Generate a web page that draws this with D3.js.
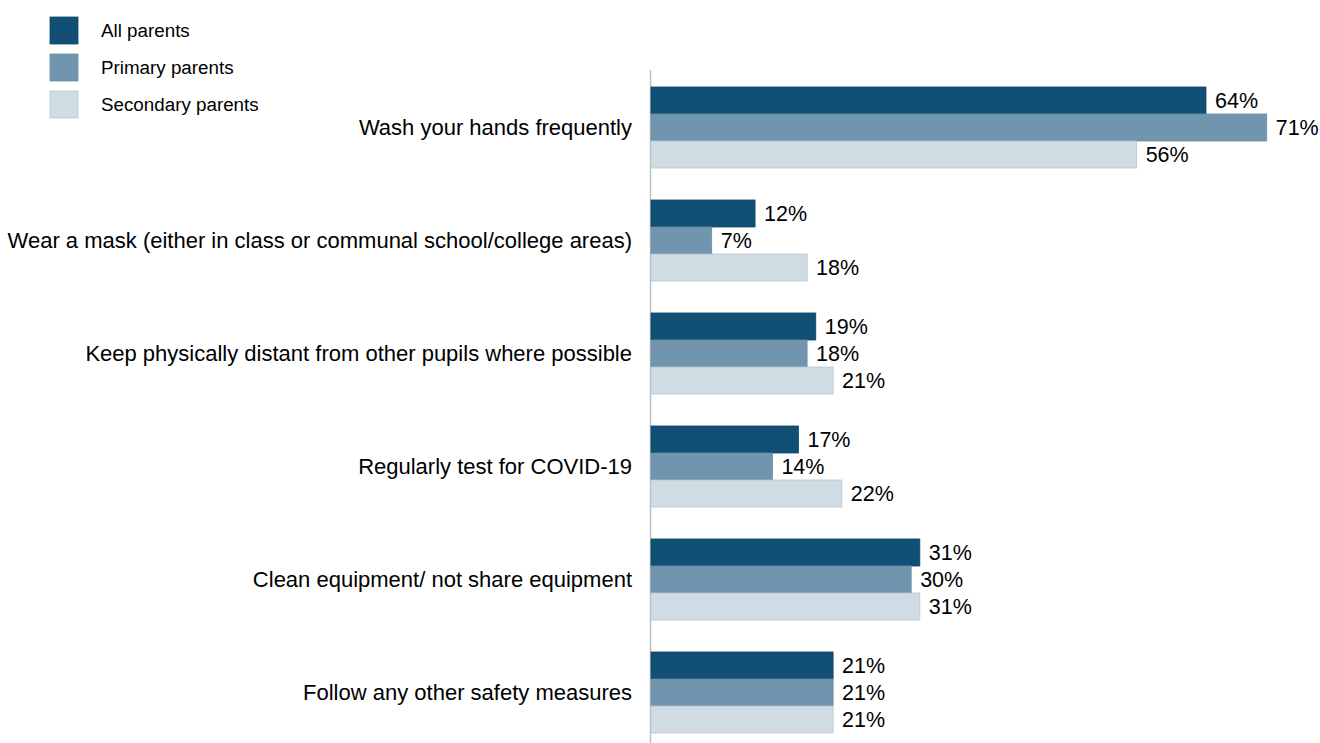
<!DOCTYPE html>
<html>
<head>
<meta charset="utf-8">
<script src="https://cdn.jsdelivr.net/npm/d3@7"></script>
<style>
  html, body { margin: 0; padding: 0; background: #fff; }
  svg { display: block; font-family: "Liberation Sans", Arial, sans-serif; }
</style>
</head>
<body>
<svg id="chart" width="1320" height="743"></svg>
<script>
const categories = [
  "Wash your hands frequently",
  "Wear a mask (either in class or communal school/college areas)",
  "Keep physically distant from other pupils where possible",
  "Regularly test for COVID-19",
  "Clean equipment/ not share equipment",
  "Follow any other safety measures"
];
const seriesNames = ["All parents", "Primary parents", "Secondary parents"];
const allParents = [64, 12, 19, 17, 31, 21];
const primaryParents = [71, 7, 18, 14, 30, 21];
const secondaryParents = [56, 18, 21, 22, 31, 21];
const seriesValues = [allParents, primaryParents, secondaryParents];
const colors = ["#114f74", "#7195ae", "#d0dce4"];
const strokes = ["#0e4768", "#6a8ea7", "#b9c6cf"];

const svg = d3.select("#chart");
const x0 = 651;
const x = d3.scaleLinear().domain([0, 64]).range([x0, 1206]);
const y = d3.scaleBand().domain(categories).range([71, 749]).paddingInner(0.283).paddingOuter(0.1415);
const ys = d3.scaleBand().domain(seriesNames).range([0, y.bandwidth()]);

// axis line
svg.append("line").attr("x1", 650.5).attr("x2", 650.5).attr("y1", 70).attr("y2", 743)
  .attr("stroke", "#bfbfbf").attr("stroke-width", 1.5);

const g = svg.append("g").selectAll("g").data(categories).join("g")
  .attr("transform", d => `translate(0,${y(d)})`);

seriesNames.forEach((s, si) => {
  g.append("rect")
    .attr("x", x0)
    .attr("y", ys(s))
    .attr("width", (d, i) => x(seriesValues[si][i]) - x0)
    .attr("height", ys.bandwidth())
    .attr("fill", colors[si])
    .attr("stroke", strokes[si]).attr("stroke-width", 0.8);
  g.append("text")
    .attr("x", (d, i) => x(seriesValues[si][i]) + 9)
    .attr("y", ys(s) + ys.bandwidth() / 2)
    .attr("dy", "0.35em")
    .attr("font-size", 21.5)
    .attr("fill", "#000")
    .text((d, i) => seriesValues[si][i] + "%");
});

// category labels
svg.append("g").selectAll("text").data(categories).join("text")
  .attr("x", 632)
  .attr("y", d => y(d) + y.bandwidth() / 2)
  .attr("dy", "0.33em")
  .attr("text-anchor", "end")
  .attr("font-size", 22)
  .attr("fill", "#000")
  .text(d => d);

// legend
const leg = svg.append("g").selectAll("g").data(seriesNames).join("g")
  .attr("transform", (d, i) => `translate(50,${17 + i * 37})`);
leg.append("rect").attr("width", 28).attr("height", 27)
  .attr("fill", (d, i) => colors[i]).attr("stroke", (d, i) => strokes[i]).attr("stroke-width", 0.8);
leg.append("text").attr("x", 51).attr("y", 13.5).attr("dy", "0.35em")
  .attr("font-size", 18.8).attr("fill", "#000").text(d => d);
</script>
</body>
</html>
